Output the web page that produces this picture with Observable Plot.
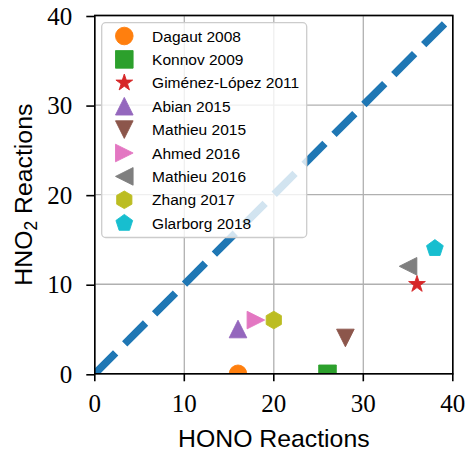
<!DOCTYPE html>
<html>
<head>
<meta charset="utf-8">
<script src="https://cdn.jsdelivr.net/npm/d3@7"></script>
<script src="https://cdn.jsdelivr.net/npm/@observablehq/plot@0.6"></script>
<style>
  html, body { margin: 0; padding: 0; background: #fff; }
  #chart { width: 467px; height: 452px; }
</style>
</head>
<body>
<div id="chart"></div>
<script>
// Reaction counts per mechanism: HONO vs HNO2 channel
const studies = [
  "Dagaut 2008", "Konnov 2009", "Giménez-López 2011", "Abian 2015", "Mathieu 2015",
  "Ahmed 2016", "Mathieu 2016", "Zhang 2017", "Glarborg 2018"
];
const honoReactions = [16, 26, 36, 16, 28, 18, 35, 20, 38];
const hno2Reactions = [0, 0, 10, 5, 4, 6, 12, 6, 14];
const markerColors = [
  "#ff7f0e", "#2ca02c", "#d62728", "#9467bd", "#8c564b",
  "#e377c2", "#7f7f7f", "#bcbd22", "#17becf"
];
const markerShapes = [
  "circle", "square", "star", "triangleUp", "triangleDown",
  "triangleRight", "triangleLeft", "hexagon", "pentagon"
];
const axisTicks = [0, 10, 20, 30, 40];
const parityLine = [0, 40];
const xLabel = "HONO Reactions";
const yLabel = "HNO2 Reactions";

const sansFont = "Liberation Sans";
const serifFont = "Liberation Serif";

// Symbol shapes: unit outlines scaled by r = sqrt(size / π)
function outline(points) {
  return {
    draw(ctx, size) {
      const r = Math.sqrt(size / Math.PI);
      points.forEach(([px, py], i) => (i ? ctx.lineTo(px * r, py * r) : ctx.moveTo(px * r, py * r)));
      ctx.closePath();
    }
  };
}
function regular(n, inner) {
  const m = inner ? 2 * n : n;
  const pts = [];
  for (let i = 0; i < m; ++i) {
    const a = -Math.PI / 2 + (i * 2 * Math.PI) / m;
    const k = inner && i % 2 ? inner : 1;
    pts.push([k * Math.cos(a), k * Math.sin(a)]);
  }
  return pts;
}
const shapeLibrary = {
  circle: d3.symbolCircle,
  square: outline([[-1, -1], [1, -1], [1, 1], [-1, 1]]),
  star: outline(regular(5, 0.381966)),
  triangleUp: outline([[0, -1], [1, 1], [-1, 1]]),
  triangleDown: outline([[0, 1], [1, -1], [-1, -1]]),
  triangleRight: outline([[1, 0], [-1, 1], [-1, -1]]),
  triangleLeft: outline([[-1, 0], [1, -1], [1, 1]]),
  hexagon: outline(regular(6)),
  pentagon: outline(regular(5))
};

const points = studies.map((study, i) => ({study, hono: honoReactions[i], hno2: hno2Reactions[i]}));

const markerR = 8.8;

const chart = Plot.plot({
  width: 467,
  height: 452,
  marginLeft: 94.3,
  marginRight: 14.7,
  marginTop: 15,
  marginBottom: 78.7,
  style: {fontFamily: sansFont, background: "white", color: "black"},
  x: {domain: [0, 40], axis: null},
  y: {domain: [0, 40], axis: null},
  color: {domain: studies, range: markerColors},
  symbol: {domain: studies, range: markerShapes.map((k) => shapeLibrary[k])},
  marks: [
    Plot.gridX(axisTicks, {stroke: "#b0b0b0", strokeOpacity: 1, strokeWidth: 1.3}),
    Plot.gridY(axisTicks, {stroke: "#b0b0b0", strokeOpacity: 1, strokeWidth: 1.3}),
    Plot.line(parityLine, {
      x: (d) => d, y: (d) => d,
      stroke: "#1f77b4", strokeWidth: 7.5, strokeDasharray: "29.5 12.8", strokeLinecap: "butt",
      clip: true
    }),
    Plot.dot(points, {
      x: "hono", y: "hno2", symbol: "study", fill: "study", stroke: "study",
      strokeWidth: 0.9, r: markerR, clip: true
    }),
    Plot.frame({stroke: "black", strokeWidth: 1.6}),
    Plot.axisX(axisTicks, {
      tickSize: 8, tickPadding: 12, strokeWidth: 1.6, stroke: "black",
      fontFamily: serifFont, fontSize: 25, label: null
    }),
    Plot.axisY(axisTicks, {
      tickSize: 8, tickPadding: 14.5, strokeWidth: 1.6, stroke: "black",
      fontFamily: serifFont, fontSize: 25, dy: 1, label: null
    }),
    Plot.text([xLabel], {
      text: (d) => d, frameAnchor: "bottom", lineAnchor: "bottom", textAnchor: "middle", dy: 73.2,
      fontSize: 24.8, fontFamily: sansFont
    }),
    Plot.text([yLabel], {
      text: (d) => d, frameAnchor: "left", lineAnchor: "bottom", textAnchor: "middle",
      rotate: -90, dx: -62.6, fontSize: 24.8, fontFamily: sansFont
    })
  ]
});

document.getElementById("chart").appendChild(chart);

// Subscript the "2" in the y-axis label
d3.select(chart).selectAll("text").filter(function () { return this.textContent === yLabel; })
  .each(function () {
    const t = d3.select(this);
    t.text("HNO");
    t.append("tspan").attr("font-size", 17.5).attr("dy", 5).text("2");
    t.append("tspan").attr("dy", -5).text(" Reactions");
  });

// Legend built from the chart's color and symbol scales
const colorScale = chart.scale("color");
const symbolScale = chart.scale("symbol");
const legend = d3.select(chart).append("g")
  .attr("font-family", sansFont).attr("font-size", 15.5).attr("fill", "black")
  .attr("text-anchor", "start");
legend.append("rect")
  .attr("x", 101.7).attr("y", 22.7).attr("width", 205).attr("height", 214.8).attr("rx", 4)
  .attr("fill", "white").attr("fill-opacity", 0.8)
  .attr("stroke", "#cccccc").attr("stroke-width", 1.3);
const rows = legend.selectAll("g.row").data(colorScale.domain).join("g")
  .attr("class", "row")
  .attr("transform", (d, i) => `translate(124.3,${36 + i * 23.4})`);
rows.append("path")
  .attr("d", (d) => {
    const p = d3.path();
    symbolScale.apply(d).draw(p, Math.PI * markerR * markerR);
    return p.toString();
  })
  .attr("fill", (d) => colorScale.apply(d))
  .attr("stroke", (d) => colorScale.apply(d))
  .attr("stroke-width", 0.9);
rows.append("text").attr("x", 27.8).attr("dy", "0.36em").text((d) => d);
</script>
</body>
</html>
